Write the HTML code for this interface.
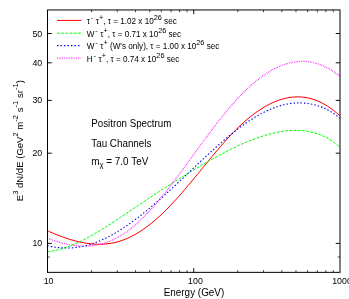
<!DOCTYPE html><html><head><meta charset="utf-8"><style>html,body{margin:0;padding:0;background:#fff;overflow:hidden}svg{display:block;will-change:transform}text{font-family:"Liberation Sans",sans-serif;font-size:9.5px;fill:#000}text.s{font-size:8.8px}text.l{font-size:8.15px}text.b{font-size:9.7px}text.c{font-size:10.1px}</style></head><body>
<svg width="349" height="299" viewBox="0 0 349 299">
<rect width="349" height="299" fill="#fff"/>
<defs><clipPath id="cp"><rect x="47.50" y="9.95" width="292.50" height="262.40"/></clipPath></defs>
<g clip-path="url(#cp)" fill="none">
<path d="M47.50,230.84 C47.92,231.02 49.08,231.54 50.00,231.93 C50.92,232.32 52.00,232.78 53.00,233.20 C54.00,233.61 55.00,234.02 56.00,234.42 C57.00,234.82 58.00,235.21 59.00,235.60 C60.00,235.98 61.00,236.36 62.00,236.72 C63.00,237.08 64.00,237.44 65.00,237.78 C66.00,238.13 67.00,238.46 68.00,238.78 C69.00,239.11 70.00,239.42 71.00,239.72 C72.00,240.02 73.00,240.30 74.00,240.58 C75.00,240.85 76.00,241.11 77.00,241.36 C78.00,241.61 79.00,241.84 80.00,242.06 C81.00,242.28 82.00,242.48 83.00,242.67 C84.00,242.86 85.00,243.04 86.00,243.19 C87.00,243.35 88.00,243.49 89.00,243.62 C90.00,243.74 91.00,243.85 92.00,243.94 C93.00,244.03 94.00,244.10 95.00,244.15 C96.00,244.20 97.00,244.24 98.00,244.25 C99.00,244.27 100.00,244.26 101.00,244.24 C102.00,244.21 103.00,244.17 104.00,244.10 C105.00,244.04 106.00,243.95 107.00,243.84 C108.00,243.73 109.00,243.60 110.00,243.45 C111.00,243.29 112.00,243.12 113.00,242.92 C114.00,242.72 115.00,242.50 116.00,242.25 C117.00,242.00 118.00,241.73 119.00,241.43 C120.00,241.14 121.00,240.81 122.00,240.47 C123.00,240.12 124.00,239.75 125.00,239.35 C126.00,238.95 127.00,238.52 128.00,238.07 C129.00,237.62 130.00,237.15 131.00,236.65 C132.00,236.15 133.00,235.63 134.00,235.08 C135.00,234.53 136.00,233.96 137.00,233.37 C138.00,232.77 139.00,232.15 140.00,231.51 C141.00,230.87 142.00,230.21 143.00,229.52 C144.00,228.83 145.00,228.12 146.00,227.39 C147.00,226.66 148.00,225.91 149.00,225.13 C150.00,224.36 151.00,223.56 152.00,222.75 C153.00,221.93 154.00,221.09 155.00,220.23 C156.00,219.37 157.00,218.49 158.00,217.59 C159.00,216.69 160.00,215.77 161.00,214.83 C162.00,213.90 163.00,212.94 164.00,211.96 C165.00,210.98 166.00,209.99 167.00,208.97 C168.00,207.96 169.00,206.93 170.00,205.88 C171.00,204.84 172.00,203.78 173.00,202.70 C174.00,201.63 175.00,200.54 176.00,199.43 C177.00,198.33 178.00,197.21 179.00,196.09 C180.00,194.96 181.00,193.82 182.00,192.67 C183.00,191.52 184.00,190.36 185.00,189.19 C186.00,188.02 187.00,186.85 188.00,185.66 C189.00,184.48 190.00,183.28 191.00,182.09 C192.00,180.89 193.00,179.68 194.00,178.47 C195.00,177.26 196.00,176.05 197.00,174.83 C198.00,173.62 199.00,172.39 200.00,171.17 C201.00,169.95 202.00,168.73 203.00,167.51 C204.00,166.28 205.00,165.06 206.00,163.84 C207.00,162.62 208.00,161.40 209.00,160.19 C210.00,158.98 211.00,157.76 212.00,156.56 C213.00,155.36 214.00,154.16 215.00,152.97 C216.00,151.78 217.00,150.59 218.00,149.42 C219.00,148.24 220.00,147.08 221.00,145.93 C222.00,144.77 223.00,143.63 224.00,142.50 C225.00,141.37 226.00,140.25 227.00,139.15 C228.00,138.05 229.00,136.96 230.00,135.89 C231.00,134.82 232.00,133.77 233.00,132.73 C234.00,131.69 235.00,130.68 236.00,129.68 C237.00,128.68 238.00,127.70 239.00,126.74 C240.00,125.79 241.00,124.85 242.00,123.93 C243.00,123.01 244.00,122.11 245.00,121.24 C246.00,120.36 247.00,119.51 248.00,118.67 C249.00,117.84 250.00,117.03 251.00,116.24 C252.00,115.44 253.00,114.68 254.00,113.93 C255.00,113.18 256.00,112.46 257.00,111.76 C258.00,111.05 259.00,110.37 260.00,109.72 C261.00,109.06 262.00,108.43 263.00,107.82 C264.00,107.21 265.00,106.62 266.00,106.06 C267.00,105.50 268.00,104.96 269.00,104.45 C270.00,103.93 271.00,103.44 272.00,102.98 C273.00,102.52 274.00,102.08 275.00,101.66 C276.00,101.25 277.00,100.86 278.00,100.50 C279.00,100.14 280.00,99.80 281.00,99.49 C282.00,99.18 283.00,98.90 284.00,98.64 C285.00,98.38 286.00,98.15 287.00,97.95 C288.00,97.75 289.00,97.58 290.00,97.43 C291.00,97.29 292.00,97.17 293.00,97.08 C294.00,96.99 295.00,96.93 296.00,96.90 C297.00,96.87 298.00,96.86 299.00,96.89 C300.00,96.92 301.00,96.98 302.00,97.06 C303.00,97.15 304.00,97.27 305.00,97.42 C306.00,97.56 307.00,97.74 308.00,97.95 C309.00,98.16 310.00,98.41 311.00,98.68 C312.00,98.95 313.00,99.26 314.00,99.59 C315.00,99.93 316.00,100.30 317.00,100.70 C318.00,101.11 319.00,101.54 320.00,102.01 C321.00,102.48 322.00,102.98 323.00,103.52 C324.00,104.05 325.00,104.62 326.00,105.23 C327.00,105.83 328.00,106.47 329.00,107.15 C330.00,107.82 331.00,108.53 332.00,109.27 C333.00,110.02 334.00,110.80 335.00,111.61 C336.00,112.43 337.17,113.44 338.00,114.17 C338.83,114.90 339.67,115.69 340.00,115.99" stroke="#ff0000" stroke-width="1.0"/>
<path d="M47.50,251.82 C47.92,251.76 49.08,251.62 50.00,251.48 C50.92,251.34 52.00,251.16 53.00,250.97 C54.00,250.78 55.00,250.57 56.00,250.34 C57.00,250.11 58.00,249.86 59.00,249.59 C60.00,249.33 61.00,249.04 62.00,248.74 C63.00,248.44 64.00,248.12 65.00,247.78 C66.00,247.45 67.00,247.09 68.00,246.72 C69.00,246.36 70.00,245.97 71.00,245.57 C72.00,245.17 73.00,244.76 74.00,244.33 C75.00,243.91 76.00,243.46 77.00,243.01 C78.00,242.55 79.00,242.08 80.00,241.60 C81.00,241.12 82.00,240.63 83.00,240.12 C84.00,239.62 85.00,239.10 86.00,238.58 C87.00,238.05 88.00,237.51 89.00,236.96 C90.00,236.42 91.00,235.86 92.00,235.29 C93.00,234.72 94.00,234.15 95.00,233.56 C96.00,232.98 97.00,232.38 98.00,231.78 C99.00,231.18 100.00,230.58 101.00,229.96 C102.00,229.35 103.00,228.73 104.00,228.10 C105.00,227.47 106.00,226.84 107.00,226.20 C108.00,225.56 109.00,224.92 110.00,224.27 C111.00,223.63 112.00,222.97 113.00,222.32 C114.00,221.67 115.00,221.01 116.00,220.35 C117.00,219.69 118.00,219.02 119.00,218.36 C120.00,217.69 121.00,217.02 122.00,216.35 C123.00,215.68 124.00,215.01 125.00,214.34 C126.00,213.67 127.00,212.99 128.00,212.32 C129.00,211.65 130.00,210.97 131.00,210.29 C132.00,209.62 133.00,208.94 134.00,208.27 C135.00,207.59 136.00,206.91 137.00,206.24 C138.00,205.56 139.00,204.89 140.00,204.21 C141.00,203.54 142.00,202.86 143.00,202.19 C144.00,201.52 145.00,200.85 146.00,200.18 C147.00,199.51 148.00,198.84 149.00,198.18 C150.00,197.51 151.00,196.85 152.00,196.19 C153.00,195.53 154.00,194.87 155.00,194.22 C156.00,193.56 157.00,192.91 158.00,192.25 C159.00,191.60 160.00,190.95 161.00,190.31 C162.00,189.66 163.00,189.01 164.00,188.37 C165.00,187.73 166.00,187.09 167.00,186.45 C168.00,185.81 169.00,185.18 170.00,184.54 C171.00,183.91 172.00,183.27 173.00,182.64 C174.00,182.01 175.00,181.39 176.00,180.76 C177.00,180.14 178.00,179.51 179.00,178.89 C180.00,178.27 181.00,177.65 182.00,177.03 C183.00,176.41 184.00,175.80 185.00,175.18 C186.00,174.57 187.00,173.96 188.00,173.35 C189.00,172.74 190.00,172.13 191.00,171.52 C192.00,170.91 193.00,170.31 194.00,169.71 C195.00,169.11 196.00,168.51 197.00,167.91 C198.00,167.32 199.00,166.72 200.00,166.13 C201.00,165.54 202.00,164.95 203.00,164.37 C204.00,163.79 205.00,163.21 206.00,162.63 C207.00,162.05 208.00,161.48 209.00,160.91 C210.00,160.34 211.00,159.78 212.00,159.22 C213.00,158.66 214.00,158.10 215.00,157.55 C216.00,157.00 217.00,156.45 218.00,155.91 C219.00,155.37 220.00,154.83 221.00,154.30 C222.00,153.77 223.00,153.25 224.00,152.73 C225.00,152.21 226.00,151.69 227.00,151.18 C228.00,150.67 229.00,150.17 230.00,149.68 C231.00,149.18 232.00,148.69 233.00,148.21 C234.00,147.73 235.00,147.25 236.00,146.78 C237.00,146.31 238.00,145.85 239.00,145.39 C240.00,144.94 241.00,144.49 242.00,144.05 C243.00,143.61 244.00,143.18 245.00,142.75 C246.00,142.33 247.00,141.91 248.00,141.50 C249.00,141.10 250.00,140.69 251.00,140.30 C252.00,139.91 253.00,139.53 254.00,139.16 C255.00,138.78 256.00,138.42 257.00,138.06 C258.00,137.70 259.00,137.36 260.00,137.02 C261.00,136.68 262.00,136.36 263.00,136.04 C264.00,135.72 265.00,135.41 266.00,135.12 C267.00,134.82 268.00,134.54 269.00,134.26 C270.00,133.99 271.00,133.73 272.00,133.48 C273.00,133.23 274.00,132.99 275.00,132.77 C276.00,132.55 277.00,132.34 278.00,132.14 C279.00,131.95 280.00,131.77 281.00,131.60 C282.00,131.44 283.00,131.29 284.00,131.15 C285.00,131.02 286.00,130.90 287.00,130.80 C288.00,130.70 289.00,130.61 290.00,130.55 C291.00,130.48 292.00,130.43 293.00,130.40 C294.00,130.37 295.00,130.36 296.00,130.37 C297.00,130.37 298.00,130.40 299.00,130.45 C300.00,130.49 301.00,130.56 302.00,130.65 C303.00,130.73 304.00,130.84 305.00,130.97 C306.00,131.10 307.00,131.26 308.00,131.43 C309.00,131.61 310.00,131.80 311.00,132.03 C312.00,132.25 313.00,132.49 314.00,132.77 C315.00,133.04 316.00,133.34 317.00,133.67 C318.00,133.99 319.00,134.35 320.00,134.74 C321.00,135.12 322.00,135.54 323.00,135.99 C324.00,136.44 325.00,136.92 326.00,137.44 C327.00,137.95 328.00,138.50 329.00,139.09 C330.00,139.68 331.00,140.30 332.00,140.96 C333.00,141.63 334.00,142.33 335.00,143.07 C336.00,143.81 337.17,144.74 338.00,145.42 C338.83,146.09 339.67,146.84 340.00,147.12" stroke="#00ff00" stroke-width="1.0" stroke-dasharray="2.8 1.4"/>
<path d="M47.50,245.75 C47.92,245.84 49.08,246.11 50.00,246.30 C50.92,246.48 52.00,246.69 53.00,246.86 C54.00,247.02 55.00,247.17 56.00,247.31 C57.00,247.44 58.00,247.55 59.00,247.65 C60.00,247.74 61.00,247.82 62.00,247.87 C63.00,247.93 64.00,247.97 65.00,247.99 C66.00,248.01 67.00,248.01 68.00,247.99 C69.00,247.97 70.00,247.94 71.00,247.88 C72.00,247.83 73.00,247.75 74.00,247.66 C75.00,247.56 76.00,247.45 77.00,247.31 C78.00,247.18 79.00,247.03 80.00,246.86 C81.00,246.68 82.00,246.49 83.00,246.28 C84.00,246.07 85.00,245.84 86.00,245.59 C87.00,245.34 88.00,245.06 89.00,244.77 C90.00,244.48 91.00,244.17 92.00,243.84 C93.00,243.51 94.00,243.16 95.00,242.79 C96.00,242.42 97.00,242.04 98.00,241.63 C99.00,241.23 100.00,240.80 101.00,240.36 C102.00,239.92 103.00,239.47 104.00,238.99 C105.00,238.52 106.00,238.03 107.00,237.52 C108.00,237.02 109.00,236.49 110.00,235.96 C111.00,235.42 112.00,234.87 113.00,234.30 C114.00,233.74 115.00,233.15 116.00,232.56 C117.00,231.96 118.00,231.35 119.00,230.73 C120.00,230.11 121.00,229.48 122.00,228.83 C123.00,228.18 124.00,227.52 125.00,226.85 C126.00,226.18 127.00,225.50 128.00,224.80 C129.00,224.11 130.00,223.40 131.00,222.68 C132.00,221.96 133.00,221.23 134.00,220.49 C135.00,219.76 136.00,219.01 137.00,218.25 C138.00,217.49 139.00,216.72 140.00,215.94 C141.00,215.16 142.00,214.37 143.00,213.57 C144.00,212.77 145.00,211.96 146.00,211.15 C147.00,210.33 148.00,209.51 149.00,208.68 C150.00,207.84 151.00,207.00 152.00,206.16 C153.00,205.31 154.00,204.45 155.00,203.59 C156.00,202.73 157.00,201.86 158.00,200.98 C159.00,200.10 160.00,199.22 161.00,198.33 C162.00,197.44 163.00,196.55 164.00,195.65 C165.00,194.75 166.00,193.84 167.00,192.93 C168.00,192.02 169.00,191.11 170.00,190.19 C171.00,189.27 172.00,188.34 173.00,187.42 C174.00,186.49 175.00,185.56 176.00,184.63 C177.00,183.69 178.00,182.76 179.00,181.82 C180.00,180.88 181.00,179.94 182.00,179.00 C183.00,178.06 184.00,177.11 185.00,176.17 C186.00,175.22 187.00,174.27 188.00,173.33 C189.00,172.38 190.00,171.43 191.00,170.49 C192.00,169.54 193.00,168.59 194.00,167.65 C195.00,166.70 196.00,165.75 197.00,164.81 C198.00,163.87 199.00,162.92 200.00,161.98 C201.00,161.04 202.00,160.11 203.00,159.17 C204.00,158.24 205.00,157.30 206.00,156.38 C207.00,155.45 208.00,154.53 209.00,153.61 C210.00,152.69 211.00,151.77 212.00,150.86 C213.00,149.95 214.00,149.05 215.00,148.15 C216.00,147.25 217.00,146.36 218.00,145.47 C219.00,144.59 220.00,143.71 221.00,142.84 C222.00,141.97 223.00,141.10 224.00,140.25 C225.00,139.39 226.00,138.54 227.00,137.71 C228.00,136.87 229.00,136.04 230.00,135.22 C231.00,134.40 232.00,133.59 233.00,132.79 C234.00,131.99 235.00,131.20 236.00,130.43 C237.00,129.65 238.00,128.88 239.00,128.13 C240.00,127.37 241.00,126.63 242.00,125.90 C243.00,125.17 244.00,124.45 245.00,123.75 C246.00,123.05 247.00,122.36 248.00,121.68 C249.00,121.01 250.00,120.34 251.00,119.70 C252.00,119.05 253.00,118.42 254.00,117.80 C255.00,117.19 256.00,116.59 257.00,116.00 C258.00,115.42 259.00,114.85 260.00,114.30 C261.00,113.75 262.00,113.22 263.00,112.70 C264.00,112.19 265.00,111.69 266.00,111.21 C267.00,110.73 268.00,110.27 269.00,109.83 C270.00,109.39 271.00,108.97 272.00,108.57 C273.00,108.17 274.00,107.79 275.00,107.43 C276.00,107.07 277.00,106.73 278.00,106.41 C279.00,106.09 280.00,105.79 281.00,105.51 C282.00,105.23 283.00,104.98 284.00,104.74 C285.00,104.51 286.00,104.30 287.00,104.11 C288.00,103.92 289.00,103.75 290.00,103.60 C291.00,103.46 292.00,103.34 293.00,103.24 C294.00,103.14 295.00,103.06 296.00,103.01 C297.00,102.96 298.00,102.93 299.00,102.92 C300.00,102.91 301.00,102.93 302.00,102.98 C303.00,103.02 304.00,103.08 305.00,103.18 C306.00,103.27 307.00,103.39 308.00,103.53 C309.00,103.67 310.00,103.84 311.00,104.03 C312.00,104.22 313.00,104.44 314.00,104.68 C315.00,104.93 316.00,105.20 317.00,105.50 C318.00,105.81 319.00,106.14 320.00,106.50 C321.00,106.86 322.00,107.25 323.00,107.68 C324.00,108.10 325.00,108.56 326.00,109.05 C327.00,109.54 328.00,110.07 329.00,110.63 C330.00,111.19 331.00,111.79 332.00,112.42 C333.00,113.06 334.00,113.73 335.00,114.45 C336.00,115.16 337.17,116.06 338.00,116.71 C338.83,117.36 339.67,118.08 340.00,118.35" stroke="#0000ff" stroke-width="1.12" stroke-dasharray="1.4 2.1"/>
<path d="M47.50,238.21 C47.92,238.37 49.08,238.82 50.00,239.15 C50.92,239.49 52.00,239.88 53.00,240.22 C54.00,240.56 55.00,240.90 56.00,241.21 C57.00,241.53 58.00,241.84 59.00,242.13 C60.00,242.42 61.00,242.70 62.00,242.96 C63.00,243.23 64.00,243.47 65.00,243.71 C66.00,243.94 67.00,244.16 68.00,244.36 C69.00,244.56 70.00,244.75 71.00,244.91 C72.00,245.08 73.00,245.23 74.00,245.36 C75.00,245.50 76.00,245.61 77.00,245.71 C78.00,245.80 79.00,245.88 80.00,245.94 C81.00,246.00 82.00,246.04 83.00,246.05 C84.00,246.07 85.00,246.07 86.00,246.04 C87.00,246.02 88.00,245.98 89.00,245.91 C90.00,245.84 91.00,245.75 92.00,245.64 C93.00,245.53 94.00,245.39 95.00,245.24 C96.00,245.08 97.00,244.90 98.00,244.69 C99.00,244.48 100.00,244.25 101.00,243.99 C102.00,243.74 103.00,243.46 104.00,243.15 C105.00,242.85 106.00,242.51 107.00,242.16 C108.00,241.80 109.00,241.42 110.00,241.01 C111.00,240.60 112.00,240.17 113.00,239.71 C114.00,239.24 115.00,238.76 116.00,238.24 C117.00,237.73 118.00,237.19 119.00,236.62 C120.00,236.06 121.00,235.46 122.00,234.84 C123.00,234.22 124.00,233.57 125.00,232.90 C126.00,232.22 127.00,231.52 128.00,230.78 C129.00,230.05 130.00,229.29 131.00,228.50 C132.00,227.72 133.00,226.90 134.00,226.06 C135.00,225.21 136.00,224.34 137.00,223.45 C138.00,222.55 139.00,221.63 140.00,220.68 C141.00,219.74 142.00,218.77 143.00,217.78 C144.00,216.78 145.00,215.77 146.00,214.73 C147.00,213.69 148.00,212.63 149.00,211.56 C150.00,210.48 151.00,209.38 152.00,208.26 C153.00,207.14 154.00,206.01 155.00,204.85 C156.00,203.70 157.00,202.53 158.00,201.34 C159.00,200.16 160.00,198.95 161.00,197.74 C162.00,196.52 163.00,195.29 164.00,194.04 C165.00,192.80 166.00,191.54 167.00,190.27 C168.00,189.00 169.00,187.71 170.00,186.42 C171.00,185.13 172.00,183.82 173.00,182.51 C174.00,181.20 175.00,179.88 176.00,178.55 C177.00,177.22 178.00,175.88 179.00,174.54 C180.00,173.20 181.00,171.84 182.00,170.49 C183.00,169.13 184.00,167.77 185.00,166.41 C186.00,165.05 187.00,163.68 188.00,162.31 C189.00,160.94 190.00,159.57 191.00,158.19 C192.00,156.82 193.00,155.45 194.00,154.07 C195.00,152.70 196.00,151.33 197.00,149.95 C198.00,148.58 199.00,147.21 200.00,145.85 C201.00,144.48 202.00,143.12 203.00,141.76 C204.00,140.40 205.00,139.04 206.00,137.70 C207.00,136.35 208.00,135.01 209.00,133.67 C210.00,132.34 211.00,131.01 212.00,129.69 C213.00,128.37 214.00,127.06 215.00,125.76 C216.00,124.46 217.00,123.17 218.00,121.89 C219.00,120.61 220.00,119.34 221.00,118.08 C222.00,116.83 223.00,115.58 224.00,114.35 C225.00,113.12 226.00,111.91 227.00,110.71 C228.00,109.51 229.00,108.32 230.00,107.15 C231.00,105.98 232.00,104.83 233.00,103.69 C234.00,102.56 235.00,101.44 236.00,100.34 C237.00,99.24 238.00,98.16 239.00,97.10 C240.00,96.04 241.00,95.00 242.00,93.98 C243.00,92.96 244.00,91.96 245.00,90.99 C246.00,90.01 247.00,89.05 248.00,88.12 C249.00,87.19 250.00,86.27 251.00,85.38 C252.00,84.49 253.00,83.63 254.00,82.78 C255.00,81.94 256.00,81.11 257.00,80.31 C258.00,79.51 259.00,78.74 260.00,77.99 C261.00,77.23 262.00,76.50 263.00,75.80 C264.00,75.09 265.00,74.41 266.00,73.75 C267.00,73.10 268.00,72.46 269.00,71.86 C270.00,71.25 271.00,70.67 272.00,70.11 C273.00,69.55 274.00,69.02 275.00,68.51 C276.00,68.01 277.00,67.53 278.00,67.07 C279.00,66.62 280.00,66.19 281.00,65.79 C282.00,65.39 283.00,65.01 284.00,64.66 C285.00,64.32 286.00,63.99 287.00,63.70 C288.00,63.41 289.00,63.14 290.00,62.90 C291.00,62.67 292.00,62.46 293.00,62.28 C294.00,62.09 295.00,61.94 296.00,61.82 C297.00,61.69 298.00,61.60 299.00,61.53 C300.00,61.47 301.00,61.43 302.00,61.42 C303.00,61.42 304.00,61.44 305.00,61.49 C306.00,61.54 307.00,61.63 308.00,61.74 C309.00,61.85 310.00,62.00 311.00,62.17 C312.00,62.35 313.00,62.55 314.00,62.79 C315.00,63.03 316.00,63.30 317.00,63.60 C318.00,63.90 319.00,64.23 320.00,64.60 C321.00,64.96 322.00,65.36 323.00,65.79 C324.00,66.22 325.00,66.68 326.00,67.18 C327.00,67.68 328.00,68.21 329.00,68.77 C330.00,69.33 331.00,69.93 332.00,70.56 C333.00,71.19 334.00,71.85 335.00,72.55 C336.00,73.25 337.17,74.12 338.00,74.76 C338.83,75.39 339.67,76.08 340.00,76.34" stroke="#ff00ff" stroke-width="1.2" stroke-dasharray="0.7 1.05"/>
</g>
<rect x="47.50" y="9.95" width="292.50" height="262.40" fill="none" stroke="#000" stroke-width="1.0"/>
<path d="M47.50,243.40 L51.80,243.40 M340.00,243.40 L335.70,243.40 M47.50,153.20 L51.80,153.20 M340.00,153.20 L335.70,153.20 M47.50,100.40 L51.80,100.40 M340.00,100.40 L335.70,100.40 M47.50,62.80 L51.80,62.80 M340.00,62.80 L335.70,62.80 M47.50,33.50 L51.80,33.50 M340.00,33.50 L335.70,33.50 M193.75,272.35 L193.75,268.05 M193.75,9.95 L193.75,14.25 " stroke="#000" stroke-width="0.95" fill="none"/>
<path d="M47.50,257.01 L49.80,257.01 M340.00,257.01 L337.70,257.01 M91.53,272.35 L91.53,270.05 M91.53,9.95 L91.53,12.25 M117.28,272.35 L117.28,270.05 M117.28,9.95 L117.28,12.25 M135.55,272.35 L135.55,270.05 M135.55,9.95 L135.55,12.25 M149.72,272.35 L149.72,270.05 M149.72,9.95 L149.72,12.25 M161.30,272.35 L161.30,270.05 M161.30,9.95 L161.30,12.25 M171.10,272.35 L171.10,270.05 M171.10,9.95 L171.10,12.25 M179.58,272.35 L179.58,270.05 M179.58,9.95 L179.58,12.25 M187.06,272.35 L187.06,270.05 M187.06,9.95 L187.06,12.25 M237.78,272.35 L237.78,270.05 M237.78,9.95 L237.78,12.25 M263.53,272.35 L263.53,270.05 M263.53,9.95 L263.53,12.25 M281.80,272.35 L281.80,270.05 M281.80,9.95 L281.80,12.25 M295.97,272.35 L295.97,270.05 M295.97,9.95 L295.97,12.25 M307.55,272.35 L307.55,270.05 M307.55,9.95 L307.55,12.25 M317.35,272.35 L317.35,270.05 M317.35,9.95 L317.35,12.25 M325.83,272.35 L325.83,270.05 M325.83,9.95 L325.83,12.25 M333.31,272.35 L333.31,270.05 M333.31,9.95 L333.31,12.25 " stroke="#000" stroke-width="0.7" fill="none"/>
<text class="s" x="42.2" y="246" text-anchor="end">10</text>
<text class="s" x="42.2" y="156" text-anchor="end">20</text>
<text class="s" x="42.2" y="103" text-anchor="end">30</text>
<text class="s" x="42.2" y="66" text-anchor="end">40</text>
<text class="s" x="42.2" y="37" text-anchor="end">50</text>
<text class="s" x="48.60" y="284" text-anchor="middle">10</text>
<text class="s" x="195.45" y="284" text-anchor="middle">100</text>
<text class="s" x="342.00" y="284" text-anchor="middle">1000</text>
<text class="c" x="163.7" y="296.0" textLength="60.6" lengthAdjust="spacingAndGlyphs">Energy (GeV)</text>
<text style="font-size:9.55px" xml:space="preserve" transform="translate(22.6,140.7) rotate(-90)" text-anchor="middle">E<tspan dx="0.00" dy="-5.00" font-size="7.6">3</tspan><tspan dx="0.00" dy="5.00"> dN/dE (GeV</tspan><tspan dx="0.00" dy="-5.00" font-size="7.6">2</tspan><tspan dx="0.00" dy="5.00"> m</tspan><tspan dx="0.00" dy="-5.00" font-size="7.6">-2</tspan><tspan dx="0.00" dy="5.00"> s</tspan><tspan dx="0.00" dy="-5.00" font-size="7.6">-1</tspan><tspan dx="0.00" dy="5.00"> sr</tspan><tspan dx="0.00" dy="-5.00" font-size="7.6">-1</tspan><tspan dx="0.00" dy="5.00">)</tspan></text>
<path d="M57.0,20.40 L81.5,20.40" stroke="#ff0000" stroke-width="1.0" fill="none"/>
<text class="l" xml:space="preserve" x="86.8" y="24.00">τ<tspan dx="0.70" dy="-4.00" font-size="7.3">-</tspan><tspan dx="0.40" dy="4.00"> τ</tspan><tspan dx="0.00" dy="-4.00" font-size="7.3">+</tspan><tspan dx="0.00" dy="4.00">, τ = 1.02 x 10</tspan><tspan dx="0.00" dy="-4.00" font-size="7.3">26</tspan><tspan dx="0.00" dy="4.00"> sec</tspan></text>
<path d="M57.0,33.20 L81.5,33.20" stroke="#00ff00" stroke-width="1.0" stroke-dasharray="2.8 1.4" fill="none"/>
<text class="l" xml:space="preserve" x="86.8" y="37.00">W<tspan dx="0.70" dy="-4.00" font-size="7.3">-</tspan><tspan dx="0.40" dy="4.00"> τ</tspan><tspan dx="0.00" dy="-4.00" font-size="7.3">+</tspan><tspan dx="0.00" dy="4.00">, τ = 0.71 x 10</tspan><tspan dx="0.00" dy="-4.00" font-size="7.3">26</tspan><tspan dx="0.00" dy="4.00"> sec</tspan></text>
<path d="M57.0,45.60 L81.5,45.60" stroke="#0000ff" stroke-width="1.12" stroke-dasharray="1.4 2.1" fill="none"/>
<text class="l" xml:space="preserve" x="86.8" y="49.00">W<tspan dx="0.70" dy="-4.00" font-size="7.3">-</tspan><tspan dx="0.40" dy="4.00"> τ</tspan><tspan dx="0.00" dy="-4.00" font-size="7.3">+</tspan><tspan dx="0.00" dy="4.00"> (W's only), τ = 1.00 x 10</tspan><tspan dx="0.00" dy="-4.00" font-size="7.3">26</tspan><tspan dx="0.00" dy="4.00"> sec</tspan></text>
<path d="M57.0,58.20 L81.5,58.20" stroke="#ff00ff" stroke-width="1.2" stroke-dasharray="0.7 1.05" fill="none"/>
<text class="l" xml:space="preserve" x="86.8" y="62.00">H<tspan dx="0.70" dy="-4.00" font-size="7.3">-</tspan><tspan dx="0.40" dy="4.00"> τ</tspan><tspan dx="0.00" dy="-4.00" font-size="7.3">+</tspan><tspan dx="0.00" dy="4.00">, τ = 0.74 x 10</tspan><tspan dx="0.00" dy="-4.00" font-size="7.3">26</tspan><tspan dx="0.00" dy="4.00"> sec</tspan></text>
<text class="c" x="91.3" y="127.3" textLength="80.0" lengthAdjust="spacingAndGlyphs">Positron Spectrum</text>
<text class="c" x="91.3" y="146.6" textLength="60.1" lengthAdjust="spacingAndGlyphs">Tau Channels</text>
<text class="c" xml:space="preserve" x="91.3" y="165.2" textLength="57.0" lengthAdjust="spacingAndGlyphs">m<tspan dy="2.00" font-size="7.7">χ</tspan><tspan dx="0.00" dy="-2.00"> = 7.0 TeV</tspan></text>
</svg></body></html>
